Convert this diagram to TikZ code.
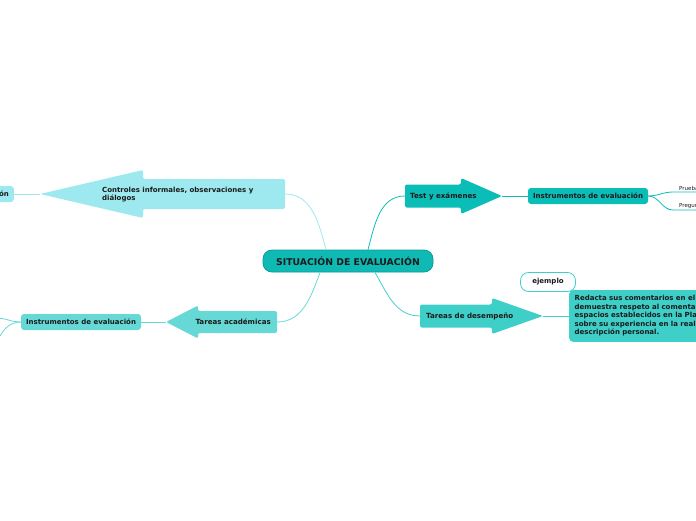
\documentclass[tikz,border=0pt]{standalone}
\usepackage{fontspec}
\setmainfont{DejaVu Sans}
\usepackage{tikz}
\definecolor{centro}{HTML}{0FBAB5}
\definecolor{centroborde}{HTML}{0A9C97}
\definecolor{rama1}{HTML}{0BBDB7}
\definecolor{rama2}{HTML}{3ECFC9}
\definecolor{rama3}{HTML}{66D9D6}
\definecolor{rama4}{HTML}{9DE9EF}
\definecolor{texto}{HTML}{1A1A1A}

\tikzset{
	caja/.style={rounded corners=3pt, minimum height=16pt, inner sep=5pt, text=texto, font=\bfseries\fontsize{7}{8.5}\selectfont},
	rotulo/.style={text=texto, inner sep=1pt, font=\bfseries\fontsize{7.1}{9}\selectfont},
	enlace/.style={line width=0.8pt},
	hoja/.style={text=texto, inner sep=1pt, font=\fontsize{5.5}{6}\selectfont}
}

\begin{document}
\begin{tikzpicture}[x=1pt, y=-1pt]
		
		\clip (0,0) rectangle (696,520);
		
		% --- HILFSMAKRO FLECHA ---
		\newcommand{\flecha}[8]{ % #1:x-cola, #2:x-cuello, #3:x-punta, #4:y, #5:medio cuerpo, #6:media punta, #7:color, #8:nombre
			\fill[#7, rounded corners=2pt] (#1,#4-#5) -- (#2,#4-#5) -- (#2,#4-#6) -- (#3,#4) -- (#2,#4+#6) -- (#2,#4+#5) -- (#1,#4+#5) -- cycle;
			\coordinate (#8-cola) at (#1,#4);
			\coordinate (#8-punta) at (#3,#4);
		}
		
		% --- CENTRO ---
		\node[draw=centroborde, fill=centro, line width=0.8pt, rounded corners=9pt, minimum width=170pt, minimum height=22pt, text=texto, font=\bfseries\fontsize{9.3}{10}\selectfont] (sit) at (348,261) {SITUACIÓN DE EVALUACIÓN};
		
		% --- RAMA 1: TEST Y EXAMENES ---
		\flecha{405}{461}{502}{196}{11.5}{18}{rama1}{test}
		\node[rotulo, anchor=west] (testtxt) at (409,196) {Test y exámenes};
		\draw[enlace, rama1] (sit.north) ++(20,0) coordinate (s1) to[out=75, in=180] (test-cola);
		\node[caja, fill=rama1, minimum width=120pt] (inst1) at (588,196) {Instrumentos de evaluación};
		\draw[enlace, rama1] (test-punta) -- (inst1.west);
		\coordinate (p1) at (673,192);
		\coordinate (p2) at (673,210);
		\node[hoja, anchor=south west] (prueba) at (678,192) {Pruebas};
		\node[hoja, anchor=south west] (pregunta) at (678,210) {Preguntas};
		\draw[enlace, rama1] (inst1.east) to[out=0, in=180] (p1) -- ++(30,0);
		\draw[enlace, rama1] (inst1.east) to[out=0, in=180] (p2) -- ++(30,0);
		
		% --- RAMA 2: TAREAS DE DESEMPENO ---
		\flecha{420}{492}{543}{316}{11.5}{18}{rama2}{desem}
		\node[rotulo, anchor=west] (desemtxt) at (425,316) {Tareas de desempeño};
		\draw[enlace, rama2] (sit.south) ++(27,0) coordinate (s2) to[out=-60, in=180] (desem-cola);
		\node[caja, fill=rama2, anchor=west, align=left, text width=140pt, minimum height=50pt, inner sep=5.5pt, rounded corners=4pt, font=\bfseries\fontsize{7}{8.5}\selectfont] (redacta) at (569,316) {Redacta sus comentarios en el\\demuestra respeto al comentar\\espacios establecidos en la Pla\\sobre su experiencia en la reali\\descripción personal.};
		\draw[enlace, rama2] (desem-punta) -- (redacta.west);
		\node[draw=rama2, fill=white, line width=0.8pt, rounded corners=8pt, minimum width=55pt, minimum height=19pt, text=texto, font=\bfseries\fontsize{7}{8}\selectfont] (ejemplo) at (548,282) {ejemplo};
		
		% --- RAMA 3: TAREAS ACADEMICAS ---
		\flecha{277}{198}{166}{322}{11}{16.5}{rama3}{acad}
		\node[rotulo, anchor=east] (acadtxt) at (272,322) {Tareas académicas};
		\draw[enlace, rama3] (sit.south) ++(-28,0) coordinate (s3) to[out=-110, in=0] (acad-cola);
		\node[caja, fill=rama3, minimum width=120pt] (inst2) at (81,322) {Instrumentos de evaluación};
		\draw[enlace, rama3] (acad-punta) -- (inst2.east);
		\coordinate (q1) at (-4,318);
		\coordinate (q2) at (0,336);
		\draw[enlace, rama3] (inst2.west) to[out=180, in=0] (q1);
		\draw[enlace, rama3] (inst2.west) to[out=180, in=60] (q2);
		
		% --- RAMA 4: CONTROLES INFORMALES ---
		\flecha{285}{143}{40}{194}{15}{24}{rama4}{ctrl}
		\node[rotulo, anchor=west, align=left, font=\bfseries\fontsize{7}{8.5}\selectfont] (ctrltxt) at (101,194.5) {Controles informales, observaciones y\\diálogos};
		\draw[enlace, rama4] (sit.north) ++(-22,0) coordinate (s4) to[out=105, in=0] (ctrl-cola);
		\node[caja, fill=rama4, anchor=east] (inst3) at (14,194) {Instrumentos de evaluación};
		\draw[enlace, rama4] (ctrl-punta) -- (inst3.east);
		
	\end{tikzpicture}
\end{document}
